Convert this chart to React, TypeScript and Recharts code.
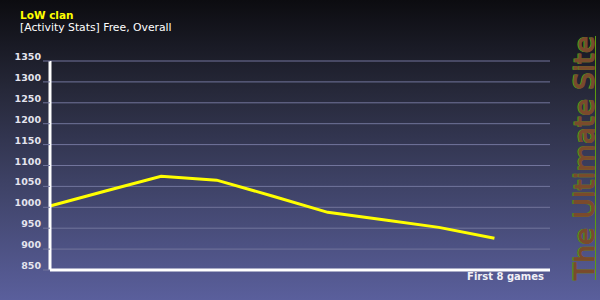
import React from 'react';
import { LineChart, Line, XAxis, YAxis, CartesianGrid, Label } from 'recharts';

// games played (0 = start rating), x axis runs to 9
const games = [0, 1, 2, 3, 4, 5, 6, 7, 8];
const rating = [1003, 1039, 1074, 1065, 1027, 988, 970, 952, 926];
const yTicks = [850, 900, 950, 1000, 1050, 1100, 1150, 1200, 1250, 1300, 1350];

const data = games.map((g, i) => ({ game: g, rating: rating[i] }));

const FONT = '"DejaVu Sans", Verdana, sans-serif';

function YTick(props: any) {
  const { x, y, payload } = props;
  return (
    <text x={x} y={y - 1} textAnchor="end" fill="#e4e4ee" fontFamily={FONT} fontWeight="bold" fontSize={9.5}>
      {payload.value}
    </text>
  );
}

function XLabel(props: any) {
  const vb = props.viewBox || {};
  return (
    <text x={vb.x + vb.width - 6} y={vb.y + 10} textAnchor="end" fill="#f0f0f6" fontFamily={FONT} fontWeight="bold" fontSize={10}>
      First 8 games
    </text>
  );
}

export default function App() {
  return (
    <div
      style={{
        position: 'absolute',
        left: 0,
        top: 0,
        width: 600,
        height: 300,
        background: 'linear-gradient(to bottom, #0c0c10 0%, #262839 30%, #3d4164 60%, #5a5f9c 100%)',
        overflow: 'hidden',
      }}
    >
      <div style={{ position: 'absolute', left: 20, top: 9, color: '#ffff00', font: `bold 10.5px ${FONT}` }}>LoW clan</div>
      <div style={{ position: 'absolute', left: 20, top: 21, color: '#ffffff', font: `10.8px ${FONT}` }}>
        [Activity Stats] Free, Overall
      </div>

      <LineChart width={600} height={300} data={data} margin={{ top: 61, right: 50, left: 0, bottom: 0 }}>
        <CartesianGrid vertical={false} stroke="#72759c" strokeWidth={1} />
        <XAxis
          dataKey="game"
          type="number"
          domain={[0, 9]}
          ticks={[]}
          tick={false}
          tickLine={false}
          height={30}
          axisLine={{ stroke: '#ffffff', strokeWidth: 3 }}
        >
          <Label content={<XLabel />} />
        </XAxis>
        <YAxis
          type="number"
          domain={[850, 1350]}
          ticks={yTicks}
          interval={0}
          width={50}
          tickSize={7}
          tickLine={{ stroke: '#72759c' }}
          tick={<YTick />}
          axisLine={{ stroke: '#ffffff', strokeWidth: 3 }}
        />
        <Line
          type="linear"
          dataKey="rating"
          stroke="#ffff00"
          strokeWidth={3}
          dot={false}
          isAnimationActive={false}
        />
      </LineChart>

      {/* vertical site watermark: green edge under brown letters */}
      <svg width={600} height={300} style={{ position: 'absolute', left: 0, top: 0, pointerEvents: 'none' }}>
        <line x1={595.5} y1={36} x2={595.5} y2={280} stroke="#5c9c10" strokeWidth={1} />
        <text
          x={594}
          y={280}
          transform="rotate(-90 594 280) translate(0 -1.5)"
          fontFamily={FONT}
          fontSize={27}
          textLength={244}
          lengthAdjust="spacingAndGlyphs"
          fill="#5ea418"
          stroke="#5ea418"
          strokeWidth={1}
        >
          The Ultimate Site
        </text>
        <text
          x={594}
          y={280}
          transform="rotate(-90 594 280)"
          fontFamily={FONT}
          fontSize={27}
          textLength={244}
          lengthAdjust="spacingAndGlyphs"
          fill="#7a4a2c"
          stroke="#7a4a2c"
          strokeWidth={1}
        >
          The Ultimate Site
        </text>
      </svg>
    </div>
  );
}
